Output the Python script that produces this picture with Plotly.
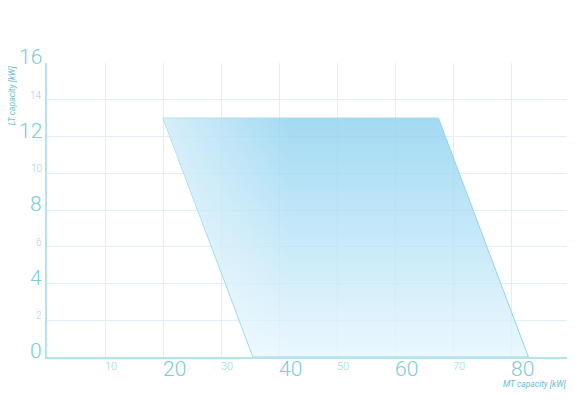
import plotly.graph_objects as go

# operating envelope (MT capacity vs LT capacity, kW)
mt_kw = [20, 67.5, 83, 35.5, 20]
lt_kw = [13, 13, 0, 0, 13]

x_major = [20, 40, 60, 80]
x_minor = [10, 30, 50, 70]
y_major = [0, 4, 8, 12, 16]
y_minor = [2, 6, 10, 14]

FONT = "Roboto"
MAJOR_COL = "#79ccd8"
MINOR_COL = "#9ad5df"
GRID_COL = "#dfeff3"
AXIS_COL = "#b6e2e9"

fig = go.Figure()

fig.add_trace(go.Scatter(
    x = mt_kw,
    y = lt_kw,
    mode = 'lines',
    fill = 'toself',
    fillgradient = dict(
        type = 'vertical',
        colorscale = [[0, 'rgba(228,245,253,0.75)'], [0.6, 'rgba(170,222,245,0.75)'], [1, 'rgba(140,208,240,0.8)']],
    ),
    line = dict(color = '#92d6e6', width = 1),
    hoverinfo = 'skip',
    showlegend = False,
))
# lighter wash on the left side of the envelope
fig.add_trace(go.Scatter(
    x = mt_kw,
    y = lt_kw,
    mode = 'none',
    fill = 'toself',
    fillgradient = dict(
        type = 'horizontal',
        colorscale = [[0, 'rgba(255,255,255,0.55)'], [0.35, 'rgba(255,255,255,0)'], [1, 'rgba(255,255,255,0)']],
    ),
    hoverinfo = 'skip',
    showlegend = False,
))

annotations = []
for v in x_major + x_minor:
    big = v in x_major
    annotations.append(dict(
        text = str(v), xref = 'x', yref = 'paper', x = v, y = 0,
        xanchor = 'left', yanchor = 'top', xshift = -2, yshift = 2 if big else -1,
        showarrow = False,
        font = dict(family = FONT, size = 21 if big else 11, color = MAJOR_COL if big else MINOR_COL, weight = 300),
    ))
for v in y_major + y_minor:
    big = v in y_major
    annotations.append(dict(
        text = str(v), xref = 'paper', yref = 'y', x = 0, y = v,
        xanchor = 'right', yanchor = 'bottom', xshift = -3, yshift = -8 if big else -3,
        showarrow = False,
        font = dict(family = FONT, size = 21 if big else 10, color = MAJOR_COL if big else MINOR_COL, weight = 300),
    ))
annotations.append(dict(
    text = '<i>LT capacity [kW]</i>',
    xref = 'paper', yref = 'paper',
    x = -0.067, y = 0.89,
    xanchor = 'center', yanchor = 'middle',
    textangle = -90,
    showarrow = False,
    font = dict(family = FONT, size = 8.5, color = '#5fc0d1'),
))
annotations.append(dict(
    text = '<i>MT capacity [kW]</i>',
    xref = 'paper', yref = 'paper',
    x = 1.0, y = -0.092,
    xanchor = 'right', yanchor = 'middle',
    showarrow = False,
    font = dict(family = FONT, size = 8.5, color = '#5fc0d1'),
))

fig.update_layout(
    width = 575,
    height = 412,
    margin = dict(l = 39, r = 14, t = 55, b = 63),
    paper_bgcolor = 'white',
    plot_bgcolor = 'white',
    showlegend = False,
    xaxis = dict(
        range = [0, 90],
        automargin = False,
        dtick = 10,
        showticklabels = False,
        ticks = '',
        showgrid = True,
        gridcolor = GRID_COL,
        gridwidth = 1,
        showline = True,
        linecolor = AXIS_COL,
        linewidth = 2,
        zeroline = False,
    ),
    yaxis = dict(
        range = [0, 16],
        automargin = False,
        dtick = 2,
        showticklabels = False,
        ticks = '',
        showgrid = True,
        gridcolor = GRID_COL,
        gridwidth = 1,
        showline = True,
        linecolor = AXIS_COL,
        linewidth = 2,
        zeroline = False,
    ),
    annotations = annotations,
)

fig.write_html("out.html")
